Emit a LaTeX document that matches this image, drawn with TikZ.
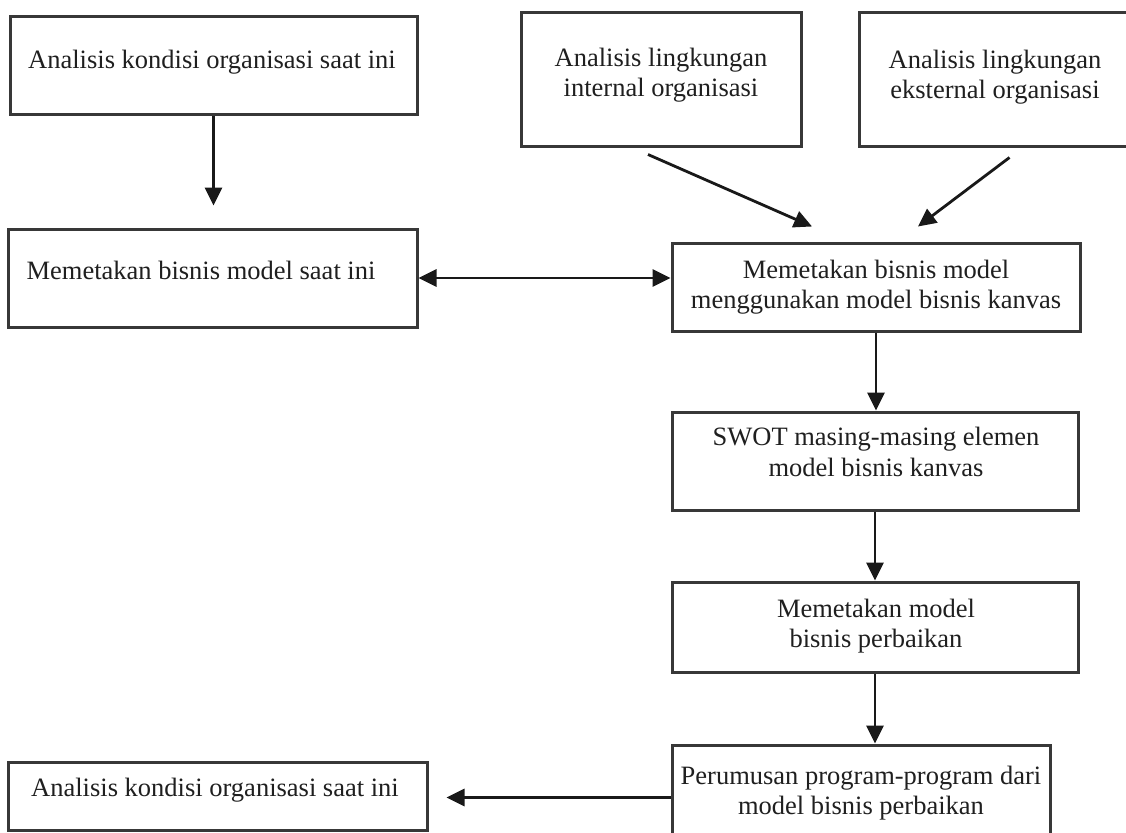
\documentclass[tikz,border=0pt]{standalone}
\usepackage{fontspec}
\setmainfont{Liberation Serif}
\usetikzlibrary{arrows.meta,calc}
\begin{document}
\begin{tikzpicture}[x=1pt,y=-1pt,
  boxstyle/.style={draw=black!78,line width=3pt,inner sep=0pt,rectangle},
  txt/.style={inner sep=0pt,align=center,text=black!88,font=\fontsize{26.5}{30.5}\selectfont},
  arr/.style={line width=2.8pt,draw=black!90,-{Triangle[length=18pt,width=17pt]}},
  darr/.style={line width=2.8pt,draw=black!90,{Triangle[length=18pt,width=17pt]}-{Triangle[length=18pt,width=17pt]}}]
\clip (0,0) rectangle (1126,832);
\fill[white] (0,0) rectangle (1126,832);
% boxes
\node[boxstyle,minimum width=407pt,minimum height=98pt] (A) at (213.5,66) {};
\node[boxstyle,minimum width=280pt,minimum height=133pt] (B) at (661,79.5) {};
\node[boxstyle,minimum width=281pt,minimum height=133pt] (C) at (999.5,79.5) {};
\node[boxstyle,minimum width=409pt,minimum height=98pt] (D) at (212.5,278) {};
\node[boxstyle,minimum width=408pt,minimum height=88pt] (E) at (876,287) {};
\node[boxstyle,minimum width=406pt,minimum height=98pt] (F) at (875,461) {};
\node[boxstyle,minimum width=406pt,minimum height=90pt] (G) at (875,627) {};
\node[boxstyle,minimum width=378pt,minimum height=105pt] (H) at (861,797.5) {};
\node[boxstyle,minimum width=419pt,minimum height=68pt] (I) at (217.5,796) {};
% texts
\node[txt] (At) at (212,62) {Analisis kondisi organisasi saat ini};
\node[txt] (Bt) at (661,75) {Analisis lingkungan\\internal organisasi};
\node[txt] (Ct) at (995,77) {Analisis lingkungan\\eksternal organisasi};
\node[txt] (Dt) at (201,270) {Memetakan bisnis model saat ini};
\node[txt] (Et) at (876,287) {Memetakan bisnis model\\menggunakan model bisnis kanvas};
\node[txt] (Ft) at (876,452) {SWOT masing-masing elemen\\model bisnis kanvas};
\node[txt] (Gt) at (876,626) {Memetakan model\\bisnis perbaikan};
\node[txt] (Ht) at (861,793) {Perumusan program-program dari\\model bisnis perbaikan};
\node[txt] (It) at (215,790) {Analisis kondisi organisasi saat ini};
% connectors
\draw[arr,shorten >=22pt] (A.south) -- (A.south |- D.north);
\draw[arr] ($(B.south)+(-13,7)$) -- ($(E.north)+(-64,-15)$);
\draw[arr] ($(C.south)+(10,10)$) -- ($(E.north)+(42,-15)$);
\draw[darr] (D.east) -- (D.east -| E.west);
\draw[arr] (E.south) -- (E.south |- F.north);
\draw[arr] (F.south) -- (G.north);
\draw[arr] (G.south) -- (G.south |- H.north);
\draw[arr,shorten >=18pt] (H.west) -- (H.west -| I.east);
\end{tikzpicture}
\end{document}
